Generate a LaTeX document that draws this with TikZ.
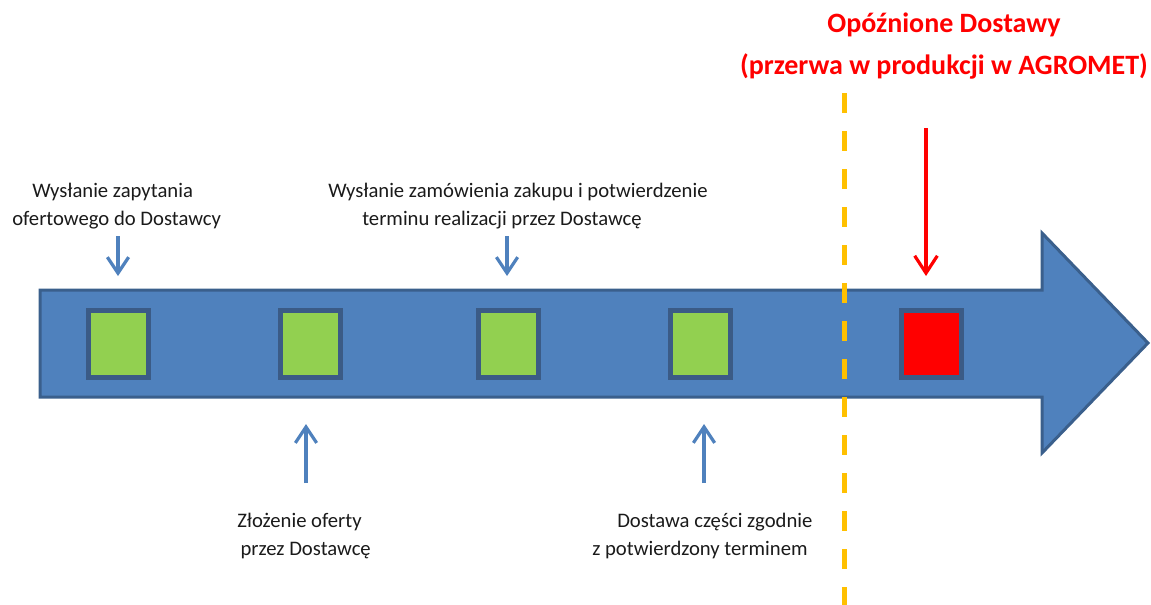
\documentclass[tikz,border=0pt]{standalone}
\usepackage{fontspec}
\setmainfont{Carlito}
\usetikzlibrary{arrows.meta}
\definecolor{bandblue}{HTML}{4F81BD}
\definecolor{bandedge}{HTML}{3A5F8C}
\definecolor{boxedge}{HTML}{3B5B86}
\definecolor{okgreen}{HTML}{92D050}
\definecolor{gapyellow}{HTML}{FFC000}
\definecolor{alertred}{HTML}{FF0000}
\definecolor{txt}{HTML}{1A1A1A}
\begin{document}
\begin{tikzpicture}[x=0.75pt,y=-0.75pt,
  band/.style={fill=bandblue,draw=bandedge,line width=2.25pt,line join=miter},
  stagebox/.style={draw=boxedge,line width=3.75pt,minimum width=45pt,minimum height=50.25pt,inner sep=0pt},
  okbox/.style={stagebox,fill=okgreen},
  badbox/.style={stagebox,fill=alertred},
  lbl/.style={font=\fontsize{15.5}{21}\selectfont,text=txt,align=left,inner sep=0pt,anchor=base west},
  bluearrow/.style={draw=bandblue,line width=2.4pt,-{Straight Barb[length=12pt,width=16pt,line width=2.4pt]}},
  redarrow/.style={draw=alertred,line width=2.4pt,-{Straight Barb[length=13pt,width=17pt,line width=2.4pt]}},
  gapline/.style={draw=gapyellow,line width=3.75pt,dash pattern=on 15pt off 13.5pt}
]
\useasboundingbox (0,0) rectangle (1151,604);
% main timeline arrow
\path[band] (40,290) -- (1042,290) -- (1042,233) -- (1148,343) -- (1042,453) -- (1042,397) -- (40,397) -- cycle;
% stage boxes
\node[okbox] (s1) at (118,344) {};
\node[okbox] (s2) at (310,344) {};
\node[okbox] (s3) at (508,344) {};
\node[okbox] (s4) at (700,344) {};
\node[badbox] (s5) at (931,344) {};
% yellow dashed divider
\coordinate (g1) at (844,93);
\coordinate (g2) at (844,610);
\draw[gapline] (g1) -- (g2);
% labels (anchor = baseline of last line)
\node[lbl] (l1) at (12,225) {\hspace*{15pt}Wysłanie zapytania\\ofertowego do Dostawcy};
\node[lbl] (l3) at (328,225) {Wysłanie zamówienia zakupu i potwierdzenie\\\hspace*{25.5pt}terminu realizacji przez Dostawcę};
\node[lbl] (l2) at (237,555) {Złożenie oferty\\\hspace*{2.5pt}przez Dostawcę};
\node[lbl] (l4) at (592,555) {\hspace*{18.75pt}Dostawa części zgodnie\\z potwierdzony terminem};
\node[font=\bfseries\fontsize{21}{31}\selectfont,text=alertred,align=center,inner sep=0pt] (title) at (944,46) {Opóźnione Dostawy\\(przerwa w produkcji w AGROMET)};
% arrows
\coordinate (a1s) at (118,236); \coordinate (a1e) at (118,276);
\coordinate (a3s) at (507,236); \coordinate (a3e) at (507,276);
\coordinate (a2s) at (306,483); \coordinate (a2e) at (306,424);
\coordinate (a4s) at (704,483); \coordinate (a4e) at (704,424);
\coordinate (r1s) at (926,128); \coordinate (r1e) at (926,276);
\draw[bluearrow] (a1s) -- (a1e);
\draw[bluearrow] (a3s) -- (a3e);
\draw[bluearrow] (a2s) -- (a2e);
\draw[bluearrow] (a4s) -- (a4e);
\draw[redarrow] (r1s) -- (r1e);
\end{tikzpicture}
\end{document}
